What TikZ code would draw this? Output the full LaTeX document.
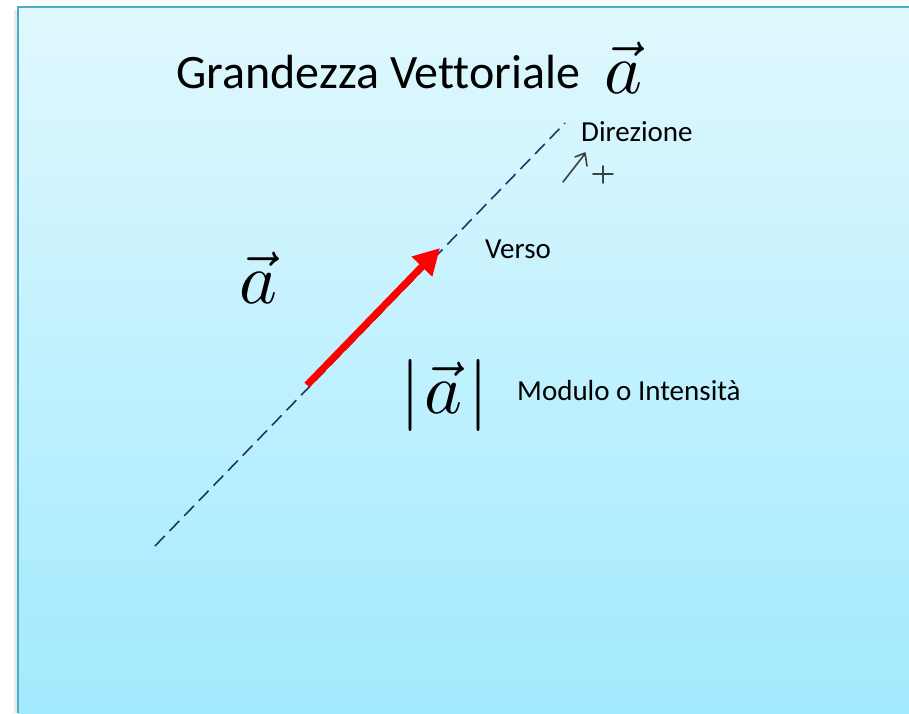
\documentclass[tikz,border=0pt]{standalone}
\usepackage{fontspec}
\usepackage{graphicx}
\setmainfont{Carlito}[Ligatures=CommonOff]
\usetikzlibrary{arrows.meta}
\definecolor{pannelloSu}{HTML}{E0F8FE}
\definecolor{pannelloGiu}{HTML}{A2EAFE}
\definecolor{bordo}{HTML}{4BACC6}
\definecolor{retta}{HTML}{1F3864}
\definecolor{vettore}{HTML}{FF0000}
\definecolor{matita}{HTML}{404040}
\newcommand{\grandea}[1]{\scalebox{7.2}{$#1$}}
\begin{document}
\begin{tikzpicture}[x=1pt,y=-1pt,
  testo/.style={anchor=base west, inner sep=0pt, font=\fontsize{29}{33}\selectfont},
  titolo/.style={anchor=base west, inner sep=0pt, font=\fontsize{48}{55}\selectfont},
  simbolo/.style={anchor=base west, inner sep=0pt}]
  \useasboundingbox (0,0) rectangle (909,713);

  % pannello di sfondo con sfumatura
  \fill[black!8] (14,10) rectangle (18,713);
  \shade[top color=pannelloSu, bottom color=pannelloGiu] (18,7) rectangle (909,713);
  \draw[bordo, line width=2.5pt] (18,713) -- (18,7) -- (909,7);

  % titolo
  \node[titolo] (titolo) at (176,88) {Grandezza Vettoriale};
  \node[simbolo] (vtitolo) at (604,93) {\grandea{\vec{a}}};

  % direzione: retta tratteggiata
  \coordinate (inizio) at (155,546);
  \coordinate (fine) at (565,123);
  \draw[retta, line width=1.6pt, dash pattern=on 14pt off 7pt] (inizio) -- (fine);

  % il vettore (verso)
  \coordinate (coda) at (307,385);
  \coordinate (punta) at (440,248);
  \draw[vettore, line width=7pt, -{Triangle[length=26pt,width=27pt]}] (coda) -- (punta);

  % segno a mano: freccia e piu
  \draw[matita, line width=1.6pt, line cap=round, line join=round]
    (563,182) -- (584,155) (575,157) -- (585,153) -- (587,166)
    (593,174) -- (613,174) (603,166) -- (603,183);

  % etichette
  \node[testo] (direzione) at (581,141) {Direzione};
  \node[testo] (verso) at (485,258) {Verso};
  \node[simbolo] (va) at (239,303) {\grandea{\vec{a}}};
  \node[simbolo] (modva) at (400,413) {\grandea{|\mkern1mu\vec{a}\mkern1.5mu|}};
  \node[testo] (modulo) at (517,400) {Modulo o Intensità};
\end{tikzpicture}
\end{document}
